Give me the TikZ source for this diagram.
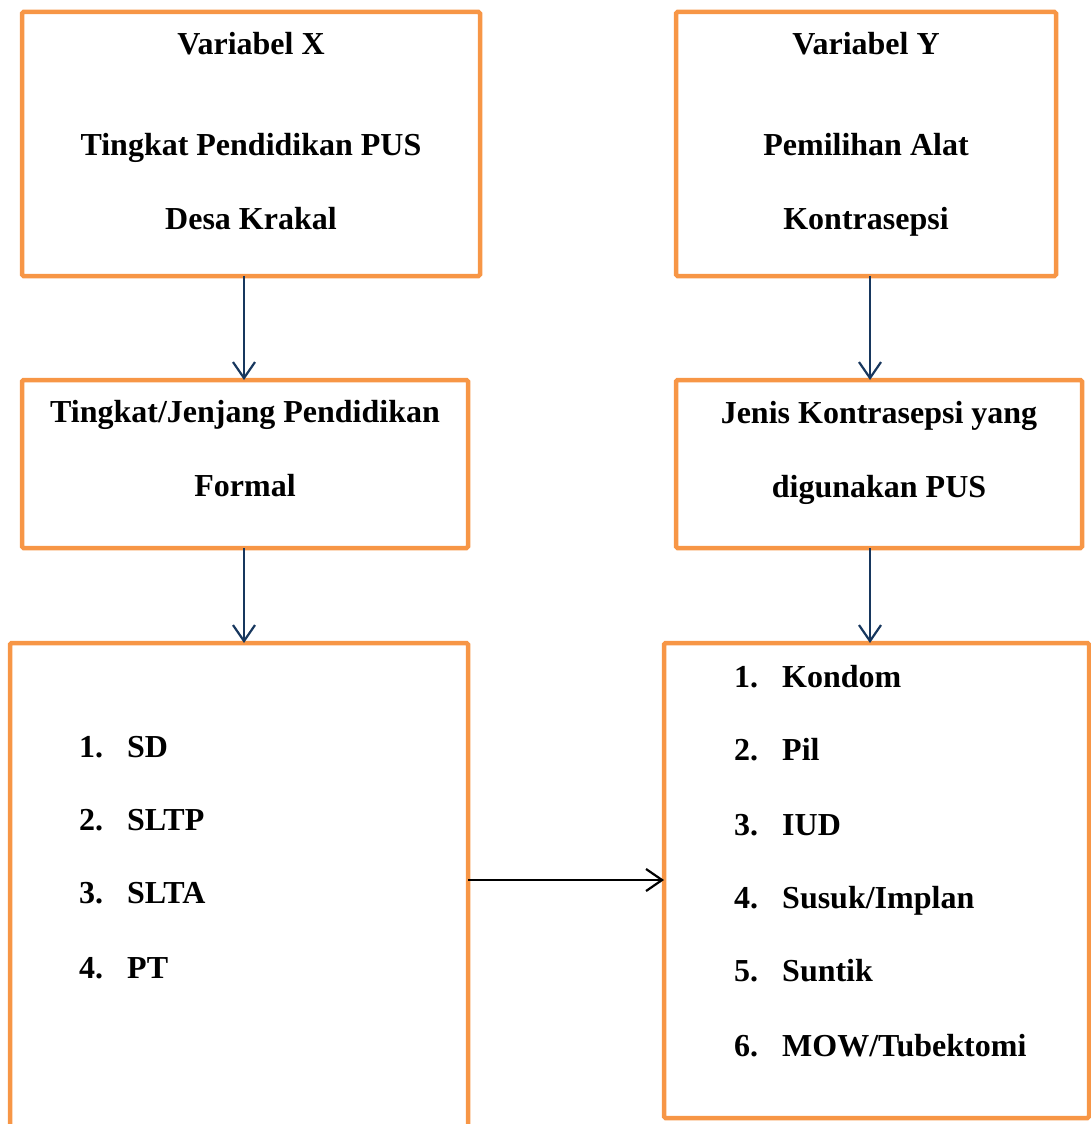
\documentclass[tikz,border=0pt]{standalone}
\usepackage{fontspec}
\setmainfont{Liberation Serif}
\usetikzlibrary{arrows.meta}
\definecolor{kotak}{HTML}{F79646}
\definecolor{panah}{HTML}{17375E}
\tikzset{
  kotak/.style={draw=kotak, line width=4.5pt, rounded corners=1.5pt, inner sep=0pt, outer sep=0pt},
  judul/.style={anchor=base, font=\fontsize{32}{38}\selectfont\bfseries},
  butir/.style={anchor=base west, inner sep=0pt, font=\fontsize{32}{38}\selectfont\bfseries},
  panahku/.style={line width=2.2pt, -{Straight Barb[length=16pt,width=22pt,line width=2.2pt]}}
}

\begin{document}
\begin{tikzpicture}[x=1pt, y=-1pt]
			%%%%% START %%%%%
			\useasboundingbox (0,0) rectangle (1091,1124);
			
			\node[kotak, minimum width=458pt, minimum height=264pt] (varX) at (251,144) {};
			\node[judul] (tX1) at (251,55) {Variabel X};
			\node[judul] (tX2) at (251,155) {Tingkat Pendidikan PUS};
			\node[judul] (tX3) at (251,229) {Desa Krakal};
			
			\node[kotak, minimum width=380pt, minimum height=264pt] (varY) at (866,144) {};
			\node[judul] (tY1) at (866,55) {Variabel Y};
			\node[judul] (tY2) at (866,155) {Pemilihan Alat};
			\node[judul] (tY3) at (866,229) {Kontrasepsi};
			
			\node[kotak, minimum width=446pt, minimum height=168pt] (jenjang) at (245,464) {};
			\node[judul] (tJ1) at (245,422) {Tingkat/Jenjang Pendidikan};
			\node[judul] (tJ2) at (245,496) {Formal};
			
			\node[kotak, minimum width=406pt, minimum height=168pt] (jenis) at (879,464) {};
			\node[judul] (tK1) at (879,423) {Jenis Kontrasepsi yang};
			\node[judul] (tK2) at (879,497) {digunakan PUS};
			
			\node[kotak, minimum width=458pt, minimum height=497pt] (sekolah) at (239,891.5) {};
			\foreach \n/\t/\y in {1/SD/757, 2/SLTP/830, 3/SLTA/903, 4/PT/978} {
				\node[butir] at (79,\y) {\n.};
				\node[butir] at (127,\y) {\t};
			}
			
			\node[kotak, minimum width=425pt, minimum height=475pt] (alat) at (876.5,880.5) {};
			\foreach \n/\t/\y in {1/Kondom/687, 2/Pil/760, 3/IUD/835, 4/Susuk\slash Implan/908, 5/Suntik/981, 6/MOW\slash Tubektomi/1056} {
				\node[butir] at (734,\y) {\n.};
				\node[butir] at (782,\y) {\t};
			}
			
			\coordinate (kiri) at (244,0);
			\coordinate (kanan) at (870,0);
			\coordinate (tengah) at (0,880);
			
			\draw[panahku, draw=panah] (varX.south -| kiri) -- (jenjang.north -| kiri);
			\draw[panahku, draw=panah] (varY.south -| kanan) -- (jenis.north -| kanan);
			\draw[panahku, draw=panah] (jenjang.south -| kiri) -- (sekolah.north -| kiri);
			\draw[panahku, draw=panah] (jenis.south -| kanan) -- (alat.north -| kanan);
			\draw[panahku] (sekolah.east |- tengah) -- (alat.west |- tengah);
			
			%%%%% END %%%%%
\end{tikzpicture}
\end{document}
